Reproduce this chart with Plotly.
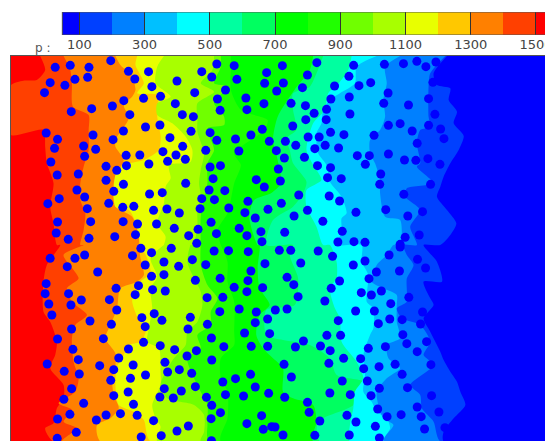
import plotly.graph_objects as go

W, H = 545, 441
LAYOUT_W = 552
# all field coordinates are in thirds of a pixel, split into four quadrants
QX, QY = 816, 585
X0, X1, Y0, Y1 = 33, 1635, 18, 1173

levels = [1500, 1400, 1300, 1200, 1100, 1000, 900, 800, 700, 600, 500, 400, 300, 200, 100]
band_colors = ["#ff4000", "#ff8000", "#ffc800", "#e8ff00", "#a8ff00", "#70ff00", "#20ff00", "#00ff00",
               "#00ff60", "#00ffa0", "#00ffff", "#00c0ff", "#0080ff", "#0040ff", "#0000ff"]
top_color = "#ff0000"

# contour edges: north half, south half; "w" = west frame, "e" = east frame
edge_1500 = ("w", [(120,18),(135,60),(110,90),(70,92),(33,105),(20,180),(33,255),(130,240),(135,290),(140,340),(160,400),(150,470),(160,520),(170,585)],
             [(180,0),(140,60),(130,110),(130,200),(150,230),(170,290),(165,330),(150,370),(190,420),(190,460),(170,490),(160,535),(135,550),(160,590)])
edge_1400 = ("w", [(190,18),(210,60),(215,100),(218,170),(265,195),(265,240),(265,300),(250,350),(240,400),(240,450),(255,490),(250,540),(240,585)],
             [(250,0),(190,30),(235,100),(200,130),(215,170),(260,210),(225,240),(215,280),(220,350),(235,400),(225,440),(175,475),(215,495),(190,530),(230,550),(185,590)])
edge_1300 = ("w", [(345,18),(360,45),(395,80),(405,120),(395,140),(370,165),(385,205),(345,270),(345,290),(370,330),(355,360),(340,400),(345,470),(395,500),(415,560),(415,585)],
             [(415,0),(420,40),(430,90),(410,110),(360,130),(350,190),(335,230),(315,280),(345,325),(345,360),(335,400),(340,450),(355,490),(330,520),(290,540),(300,590)])
edge_1200 = ("w", [(410,18),(405,45),(430,100),(410,130),(470,135),(470,200),(480,260),(475,300),(430,330),(370,345),(345,375),(345,470),(385,480),(405,515),(420,585)],
             [(420,0),(440,40),(450,85),(420,110),(395,165),(410,215),(435,260),(420,290),(385,300),(370,330),(350,365),(345,420),(355,480),(400,500),(430,525),(450,590)])
edge_1100 = ("w", [(490,18),(470,50),(465,100),(510,140),(470,160),(470,195),(515,220),(555,260),(575,300),(570,335),(505,345),(510,385),(495,410),(490,460),(470,520),(495,560),(490,585)],
             [(490,0),(450,40),(470,95),(450,130),(455,190),(445,250),(440,290),(475,310),(480,380),(480,420),(455,480),(465,520),(480,545),(470,590)])
edge_1000 = ("w", [(640,18),(635,60),(600,100),(640,125),(590,160),(590,210),(590,245),(610,310),(600,360),(595,400),(600,440),(590,480),(590,540),(575,585)],
             [(570,0),(560,50),(580,100),(600,140),(605,180),(590,230),(560,260),(555,300),(520,340),(490,390),(480,420),(500,460),(580,480),(610,510),(610,560),(600,590)])
edge_900 = ("w", [(660,18),(660,50),(640,100),(680,110),(640,160),(670,200),(670,225),(620,235),(640,300),(620,340),(620,400),(610,440),(600,500),(600,585)],
            [(600,0),(600,60),(620,120),(650,160),(630,200),(630,240),(590,270),(600,310),(560,340),(580,400),(600,440),(620,480),(620,540),(625,590)])
edge_800 = ("w", [(690,18),(690,60),(690,120),(720,180),(800,210),(790,240),(700,310),(720,345),(700,400),(690,450),(680,490),(650,540),(660,585)],
            [(660,0),(680,50),(680,110),(700,170),(700,260),(700,300),(660,340),(660,400),(680,440),(680,520),(660,590)])
edge_700 = ("e", [(120,18),(110,60),(64,120),(14,200),(0,270),(14,330),(24,400),(-6,430),(-56,450),(-71,500),(-46,585)],
            [(-40,0),(-46,70),(-40,130),(-10,180),(-40,210),(-50,270),(-30,310),(0,340),(30,370),(30,440),(60,460),(120,480),(130,530),(120,590)])
edge_600 = ("e", [(150,18),(130,70),(110,110),(60,130),(60,180),(70,240),(40,265),(50,300),(60,340),(100,395),(90,430),(60,470),(0,510),(-20,585)],
            [(60,0),(50,30),(75,100),(65,180),(-20,195),(-20,270),(30,285),(110,300),(170,340),(190,390),(270,410),(245,440),(240,480),(135,530),(140,590)])
edge_500 = ("e", [(235,18),(225,60),(200,95),(165,130),(155,180),(120,220),(100,300),(120,345),(145,390),(100,420),(100,470),(130,530),(150,585)],
            [(170,0),(190,50),(190,100),(170,130),(185,190),(200,220),(205,290),(250,350),(270,400),(245,440),(240,490),(230,540),(230,590)])
edge_400 = ("e", [(310,18),(250,50),(245,100),(200,130),(170,150),(150,180),(145,220),(130,250),(135,310),(160,345),(170,395),(205,440),(220,490),(205,505),(205,550),(185,585)],
            [(265,0),(265,50),(285,90),(280,170),(300,190),(300,250),(290,270),(270,330),(275,390),(270,440),(295,470),(310,500),(340,520),(350,550),(330,590)])
edge_300 = ("e", [(380,18),(335,50),(340,100),(330,150),(335,200),(320,240),(290,270),(290,310),(305,340),(320,390),(320,430),(335,500),(380,510),(380,585)],
            [(360,0),(340,30),(310,60),(295,110),(330,130),(370,150),(370,180),(370,230),(380,280),(340,300),(345,340),(380,370),(340,400),(310,440),(315,480),(330,520),(360,540),(330,590)])
edge_200 = ("e", [(515,18),(470,70),(465,110),(465,200),(470,230),(440,240),(430,280),(440,340),(430,350),(480,400),(400,415),(395,440),(440,480),(410,530),(430,585)],
            [(390,0),(400,30),(420,60),(400,100),(400,135),(400,170),(370,190),(385,220),(440,240),(470,290),(450,330),(480,360),(410,420),(440,450),(445,490),(480,530),(500,590)])
edge_100 = ("e", [(520,18),(480,70),(490,105),(530,115),(525,150),(550,185),(540,220),(570,258),(555,300),(530,340),(510,380),(500,410),(490,440),(520,480),(548,520),(530,555),(500,585)],
            [(450,0),(490,50),(505,110),(450,110),(470,160),(480,180),(450,220),(470,260),(500,320),(510,345),(530,380),(550,410),(560,440),(575,480),(540,520),(510,560),(510,590)])
edges = [edge_1500, edge_1400, edge_1300, edge_1200, edge_1100, edge_1000, edge_900, edge_800,
         edge_700, edge_600, edge_500, edge_400, edge_300, edge_200, edge_100]

# particle locations per quadrant
dots_nw = [(165,52),(210,46),(266,52),(331,32),(384,64),(444,65),(403,87),(262,82),(224,88),(150,98),(194,106),(133,128),(454,110),(529,93),(603,65),(633,81),(648,42),(700,47),(797,68),(708,88),(791,100),(674,120),(582,128),(480,139),(429,145),(370,152),(336,168),(274,176),(213,185),(388,194),(524,161),(650,147),(735,144),(789,161),(658,181),(738,179),(545,194),(578,200),(478,225),(435,231),(369,243),(138,249),(278,255),(172,268),(338,269),(508,263),(571,244),(628,248),(648,271),(704,267),(750,255),(784,238),(805,274),(163,295),(250,288),(286,298),(253,319),(377,316),(418,315),(487,305),(546,289),(526,315),(554,328),(501,334),(615,301),(714,303),(152,336),(317,349),(349,361),(378,347),(445,342),(628,351),(659,347),(171,375),(234,372),(317,391),(369,403),(637,386),(766,389),(555,400),(790,411),(230,420),(340,424),(253,441),(447,432),(485,428),(625,420),(672,422),(177,446),(143,461),(325,460),(603,446),(641,449),(741,454),(367,472),(400,469),(261,476),(459,481),(499,477),(536,489),(598,476),(684,474),(732,488),(801,478),(763,504),(172,516),(271,515),(368,515),(411,522),(468,522),(631,517),(521,535),(592,538),(715,535),(168,549),(204,568),(266,565),(343,560),(405,554),(564,557),(647,551),(738,557),(780,545),(783,575),(588,580)]
dots_ne = [(28,47),(131,38),(241,46),(333,43),(390,41),(430,34),(457,50),(487,36),(227,79),(103,75),(31,99),(184,108),(88,113),(11,123),(257,107),(292,98),(344,129),(478,97),(228,141),(173,147),(54,160),(97,167),(331,160),(405,165),(465,146),(160,178),(123,190),(230,192),(484,193),(159,209),(98,209),(59,228),(345,226),(380,221),(465,226),(416,243),(501,237),(172,247),(212,254),(302,256),(105,261),(138,261),(511,266),(37,274),(156,286),(68,286),(125,296),(196,294),(431,280),(10,302),(34,324),(94,322),(252,317),(288,317),(345,312),(393,330),(427,331),(463,326),(499,343),(276,343),(133,347),(172,353),(16,357),(322,372),(163,383),(204,386),(22,393),(319,403),(471,403),(77,435),(168,438),(391,433),(199,453),(25,460),(337,479),(103,481),(248,487),(447,485),(403,498),(63,498),(149,514),(35,547),(207,544),(437,555),(395,562),(194,576),(242,575),(275,577),(380,583)]
dots_sw = [(150,40),(224,40),(253,30),(396,32),(421,10),(453,23),(512,10),(490,51),(434,60),(201,65),(575,44),(534,64),(615,59),(640,18),(683,17),(742,20),(792,56),(292,81),(453,94),(490,89),(584,106),(658,100),(750,78),(741,107),(138,116),(414,122),(347,130),(456,134),(494,138),(700,127),(738,140),(785,128),(135,146),(205,146),(404,149),(327,164),(243,165),(146,177),(212,180),(619,158),(666,157),(349,195),(155,210),(461,206),(424,218),(484,226),(569,217),(657,200),(715,192),(766,201),(800,222),(269,228),(333,238),(434,245),(214,252),(620,238),(763,233),(562,252),(731,264),(806,266),(172,282),(309,281),(632,279),(429,292),(479,302),(218,313),(384,312),(522,314),(587,317),(669,305),(751,304),(800,304),(559,333),(234,344),(355,339),(633,345),(141,357),(298,362),(398,360),(493,352),(340,374),(536,374),(501,381),(192,379),(237,387),(573,385),(435,390),(390,400),(749,388),(704,401),(331,406),(666,411),(214,431),(491,431),(542,438),(584,425),(763,426),(383,441),(803,445),(340,452),(674,449),(728,453),(191,463),(478,456),(518,459),(617,457),(250,475),(399,478),(633,481),(659,503),(209,508),(317,510),(360,506),(410,511),(782,512),(172,522),(288,525),(459,527),(631,521),(738,536),(563,543),(228,562),(529,558),(787,553),(812,545),(422,576),(482,572),(171,580),(632,587)]
dots_se = [(19,16),(53,16),(135,18),(178,34),(83,54),(275,48),(347,30),(380,6),(432,43),(240,60),(456,69),(309,81),(378,78),(42,97),(287,101),(199,108),(62,119),(174,130),(264,143),(294,150),(324,138),(75,155),(406,157),(155,168),(352,176),(7,195),(42,192),(247,198),(303,198),(447,201),(349,222),(386,224),(195,227),(315,236),(441,237),(161,271),(202,271),(388,269),(91,288),(67,306),(142,303),(171,317),(400,296),(459,290),(285,310),(336,305),(431,320),(211,340),(262,341),(33,358),(167,355),(365,358),(472,359),(271,371),(317,365),(386,388),(55,396),(282,408),(207,408),(318,430),(402,428),(170,444),(231,449),(293,452),(474,452),(35,457),(103,472),(431,486),(313,492),(108,502),(496,501),(221,511),(383,509),(443,515),(341,515),(140,528),(248,531),(6,546),(306,544),(453,552),(514,548),(30,570),(125,571),(228,570),(318,579)]

bar_edges = [48, 100, 200, 300, 400, 500, 600, 700, 800, 900, 1000, 1100, 1200, 1300, 1400, 1500, 1560]
bar_colors = list(reversed(band_colors)) + [top_color]
tick_vals = [100, 300, 500, 700, 900, 1100, 1300, 1500]
tick_text = [str(v) for v in tick_vals]

fig = go.Figure()


def edge_xy(edge):
    frame, north, south = edge
    dx = QX if frame == "e" else 0
    xs = [p[0] + dx for p in north] + [p[0] + dx for p in south]
    ys = [p[1] for p in north] + [p[1] + QY for p in south]
    return xs, ys


# region above the highest level
fig.add_trace(go.Scatter(x=[X0 - 50, X1 + 200, X1 + 200, X0 - 50, X0 - 50], y=[Y0 - 200, Y0 - 200, Y1 + 200, Y1 + 200, Y0 - 200],
                         mode="lines", line=dict(width=0, color=top_color), fill="toself", fillcolor=top_color,
                         hoverinfo="skip", showlegend=False))

for lvl, col, edge in zip(levels, band_colors, edges):
    xs, ys = edge_xy(edge)
    fig.add_trace(go.Scatter(x=xs + [X1 + 200, X1 + 200, xs[0]], y=ys + [Y1 + 200, Y0 - 200, Y0 - 200], mode="lines",
                             line=dict(width=0, color=col, shape="spline", smoothing=0.7), fill="toself", fillcolor=col,
                             name=str(lvl), hoverinfo="skip", showlegend=False))

dx_all = [p[0] for p in dots_nw] + [p[0] + QX for p in dots_ne] + [p[0] for p in dots_sw] + [p[0] + QX for p in dots_se]
dy_all = [p[1] for p in dots_nw] + [p[1] for p in dots_ne] + [p[1] + QY for p in dots_sw] + [p[1] + QY for p in dots_se]
fig.add_trace(go.Scatter(x=dx_all, y=dy_all, mode="markers", showlegend=False,
                         marker=dict(size=9, color="#0000ff", line=dict(width=0))))

fig.add_trace(go.Bar(y=[0] * (len(bar_edges) - 1),
                     x=[b - a for a, b in zip(bar_edges[:-1], bar_edges[1:])],
                     base=bar_edges[:-1], orientation="h", width=1,
                     marker=dict(color=bar_colors, line=dict(width=0)),
                     xaxis="x2", yaxis="y2", showlegend=False))

# colorbar axis spans the whole page: value v sits at pixel 79 + (v - 100) * 0.325
fig.update_layout(
    width=LAYOUT_W, height=H, margin=dict(l=0, r=0, t=0, b=0, pad=0), autosize=False,
    paper_bgcolor="white", plot_bgcolor="white", bargap=0, barmode="overlay",
    font=dict(family="DejaVu Sans", size=13, color="#444444"),
    xaxis=dict(domain=[11 / W, 1], range=[X0, X1], side="top", showgrid=False, zeroline=False,
               showticklabels=False, ticks="", showline=True, linecolor="#555555", linewidth=1),
    yaxis=dict(domain=[0, 385 / H], range=[Y1, Y0], showgrid=False, zeroline=False,
               showticklabels=False, ticks="", showline=True, linecolor="#555555", linewidth=1),
    xaxis2=dict(domain=[0, 1], range=[100 - 79 / 0.325, 100 + 466 / 0.325], anchor="y2", tickmode="array", tickvals=tick_vals,
                ticktext=tick_text, ticks="inside", ticklen=23, tickwidth=1, tickcolor="#333333",
                ticklabelstandoff=0, ticklabeloverflow="allow",
                showgrid=False, layer="above traces", zeroline=False, showline=False,
                tickfont=dict(family="DejaVu Sans", size=13, color="#444444")),
    yaxis2=dict(domain=[1 - 35 / H, 1 - 12 / H], range=[-0.5, 0.5], anchor="x2", showticklabels=False,
                ticks="", showgrid=False, zeroline=False, showline=False),
    shapes=[dict(type="rect", xref="x2", yref="y2", x0=48, x1=1560, y0=-0.5, y1=0.5,
                 line=dict(color="#555555", width=1), fillcolor="rgba(0,0,0,0)", layer="above")],
    annotations=[dict(text="p :", xref="paper", yref="paper", x=42 / W, y=1 - 47.5 / H, showarrow=False,
                      xanchor="center", yanchor="middle", font=dict(family="DejaVu Sans", size=12, color="#555555"))],
)

fig.write_html("out.html", config={"displayModeBar": False, "responsive": False},
               post_script="document.documentElement.style.overflow='hidden';document.body.style.margin='0';document.body.style.overflow='hidden';")
